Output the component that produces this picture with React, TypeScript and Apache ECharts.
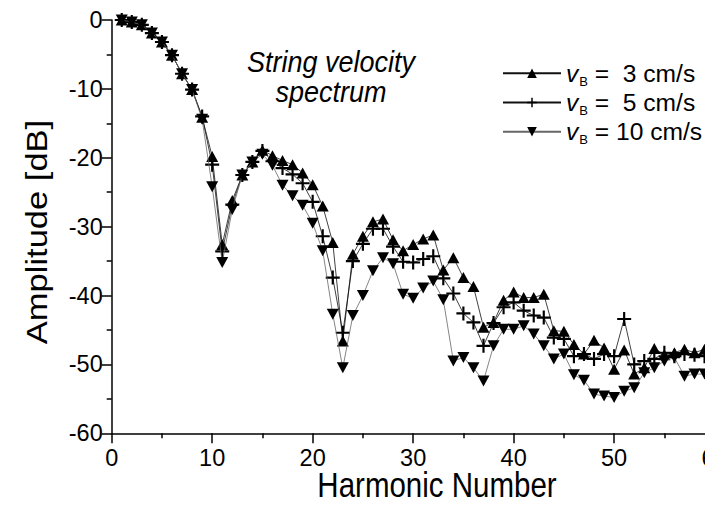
import React, { useEffect, useRef } from "react";
import * as echarts from "echarts";

const harmonicNumbers = [
  1, 2, 3, 4, 5, 6, 7, 8, 9, 10,
  11, 12, 13, 14, 15, 16, 17, 18, 19, 20,
  21, 22, 23, 24, 25, 26, 27, 28, 29, 30,
  31, 32, 33, 34, 35, 36, 37, 38, 39, 40,
  41, 42, 43, 44, 45, 46, 47, 48, 49, 50,
  51, 52, 53, 54, 55, 56, 57, 58, 59, 60,
];

const amp3 = [
  0, -0.3, -0.7, -1.9, -3.2, -5.1, -7.8, -10.1, -14.1, -19.8,
  -32.6, -26.2, -22.5, -20.6, -18.9, -19.7, -20.4, -21.0, -22.2, -23.9,
  -27.0, -32.3, -46.6, -34.0, -31.4, -29.3, -28.9, -31.9, -33.5, -32.6,
  -31.8, -31.2, -36.3, -34.5, -37.4, -38.7, -44.6, -43.9, -40.7, -39.5,
  -40.3, -40.3, -39.8, -45.1, -45.2, -47.1, -48.5, -46.5, -47.6, -50.7,
  -47.9, -51.4, -50.5, -47.7, -48.6, -48.3, -47.8, -48.3, -47.8, -47.5,
];

const amp5 = [
  0, -0.3, -0.7, -1.9, -3.2, -5.1, -7.8, -10.1, -14.0, -21.0,
  -33.6, -26.8, -22.5, -20.6, -19.0, -20.5, -21.5, -22.4, -23.7, -26.4,
  -31.4, -37.4, -45.4, -35.0, -32.5, -30.3, -30.3, -32.9, -35.1, -35.2,
  -34.7, -34.3, -37.5, -39.7, -42.6, -43.9, -47.3, -44.0, -41.7, -41.0,
  -42.2, -42.9, -43.2, -46.1, -46.3, -48.8, -48.5, -49.2, -48.5, -48.8,
  -43.4, -50.0, -49.5, -49.2, -48.3, -48.8, -48.5, -48.6, -48.8, -48.5,
];

const amp10 = [
  0, -0.3, -0.7, -1.9, -3.2, -5.1, -7.8, -10.1, -14.4, -24.2,
  -35.2, -27.5, -22.5, -20.6, -19.5, -21.1, -24.0, -25.5, -26.9, -29.5,
  -33.5, -42.7, -50.5, -42.9, -40.0, -36.4, -34.5, -35.4, -39.8, -40.4,
  -38.9, -37.9, -40.6, -49.5, -49.0, -50.5, -52.4, -47.3, -44.9, -44.9,
  -44.4, -45.6, -47.3, -49.2, -48.5, -51.5, -52.3, -54.3, -54.6, -54.8,
  -53.9, -53.4, -51.2, -50.5, -49.5, -49.0, -51.7, -51.4, -51.4, -51.2,
];

const seriesNames = ["vB = 3 cm/s", "vB = 5 cm/s", "vB = 10 cm/s"];
const legendTails = [" =  3 cm/s", " =  5 cm/s", " = 10 cm/s"];
const annotationLines = ["String velocity", "spectrum"];
const xTitle = "Harmonic Number";
const yTitle = "Amplitude [dB]";

export default function App() {
  const ref = useRef<HTMLDivElement>(null);

  useEffect(() => {
    const el = ref.current;
    if (!el) return;
    const fam = "'Liberation Sans', Arial, sans-serif";

    const chart = echarts.init(el, null, { renderer: "svg" });

    const pairs = (arr: number[]) => harmonicNumbers.map((h, i) => [h, arr[i]]);

    const plusPath = "path://M5.5,0h2v5.5h5.5v2h-5.5v5.5h-2v-5.5h-5.5v-2h5.5z";
    const downPath = "path://M0,0L12,0L6,10Z";

    const tickFont = 23.5;
    const legendFont = 24.6;

    const option: any = {
      animation: false,
      backgroundColor: "#ffffff",
      grid: {
        left: 111.7,
        top: 20,
        right: -9.6,
        bottom: 75.7,
        containLabel: false,
        outerBoundsMode: "none",
      },
      xAxis: {
        type: "value",
        min: 0,
        max: 60,
        interval: 10,
        axisLine: { show: true, onZero: false, lineStyle: { color: "#000", width: 1.5 } },
        axisTick: { show: true, inside: false, length: 10, lineStyle: { color: "#000", width: 1.5 } },
        minorTick: { show: true, splitNumber: 2, length: 5, lineStyle: { color: "#000", width: 1.5 } },
        axisLabel: { margin: 13, fontSize: tickFont, fontFamily: fam, color: "#000" },
        splitLine: { show: false },
      },
      yAxis: {
        type: "value",
        min: -60,
        max: 0,
        interval: 10,
        axisLine: { show: true, onZero: false, lineStyle: { color: "#000", width: 1.5 } },
        axisTick: { show: true, inside: false, length: 10, lineStyle: { color: "#000", width: 1.5 } },
        minorTick: { show: true, splitNumber: 2, length: 5, lineStyle: { color: "#000", width: 1.5 } },
        axisLabel: { margin: 9, fontSize: tickFont, fontFamily: fam, color: "#000" },
        splitLine: { show: false },
      },
      legend: {
        orient: "vertical",
        left: 502,
        top: 60.75,
        padding: 0,
        itemGap: 2.5,
        itemWidth: 58,
        itemHeight: 12,
        data: seriesNames,
        formatter: (name: string) => {
          const i = seriesNames.indexOf(name);
          return `{v|v}{b|B}{t|${legendTails[i]}}`;
        },
        textStyle: {
          color: "#000",
          fontFamily: fam,
          fontSize: legendFont,
          rich: {
            v: { fontStyle: "italic", fontSize: legendFont, fontFamily: fam, lineHeight: 28.5, color: "#000" },
            b: { fontSize: 13, fontFamily: fam, lineHeight: 10, verticalAlign: "bottom", color: "#000", padding: [0, 0, 0, 1] },
            t: { fontSize: legendFont, fontFamily: fam, lineHeight: 28.5, color: "#000" },
          },
        },
      },
      graphic: [
        {
          type: "text",
          x: 331,
          y: 62,
          scaleY: 1.1,
          style: {
            text: annotationLines[0],
            fontSize: 27,
            fontFamily: fam,
            fontStyle: "italic",
            fill: "#000",
            align: "center",
            verticalAlign: "middle",
          },
        },
        {
          type: "text",
          x: 331,
          y: 92,
          scaleY: 1.1,
          style: {
            text: annotationLines[1],
            fontSize: 27,
            fontFamily: fam,
            fontStyle: "italic",
            fill: "#000",
            align: "center",
            verticalAlign: "middle",
          },
        },
        {
          type: "text",
          x: 437,
          y: 485,
          scaleY: 1.2,
          style: {
            text: xTitle,
            fontSize: 29.5,
            fontFamily: fam,
            fill: "#000",
            align: "center",
            verticalAlign: "middle",
          },
        },
        {
          type: "text",
          x: 37,
          y: 232,
          rotation: Math.PI / 2,
          scaleX: 1.17,
          style: {
            text: yTitle,
            fontSize: 29.5,
            fontFamily: fam,
            fill: "#000",
            align: "center",
            verticalAlign: "middle",
          },
        },
      ],
      series: [
        {
          name: seriesNames[0],
          type: "line",
          data: pairs(amp3),
          symbol: "triangle",
          symbolSize: [12, 11],
          showSymbol: true,
          lineStyle: { color: "#111", width: 0.8 },
          itemStyle: { color: "#000", borderWidth: 0 },
          z: 2,
        },
        {
          name: seriesNames[1],
          type: "line",
          data: pairs(amp5),
          symbol: plusPath,
          symbolSize: [14, 14],
          showSymbol: true,
          lineStyle: { color: "#111", width: 0.8 },
          itemStyle: { color: "#000", borderWidth: 0 },
          z: 3,
        },
        {
          name: seriesNames[2],
          type: "line",
          data: pairs(amp10),
          symbol: downPath,
          symbolSize: [12, 11],
          showSymbol: true,
          lineStyle: { color: "#666", width: 0.8 },
          itemStyle: { color: "#000", borderWidth: 0 },
          z: 4,
        },
      ],
    };

    chart.setOption(option);
    return () => chart.dispose();
  }, []);

  return (
    <div
      ref={ref}
      style={{ position: "absolute", left: 0, top: 0, width: 705, height: 509, background: "#fff" }}
    />
  );
}
